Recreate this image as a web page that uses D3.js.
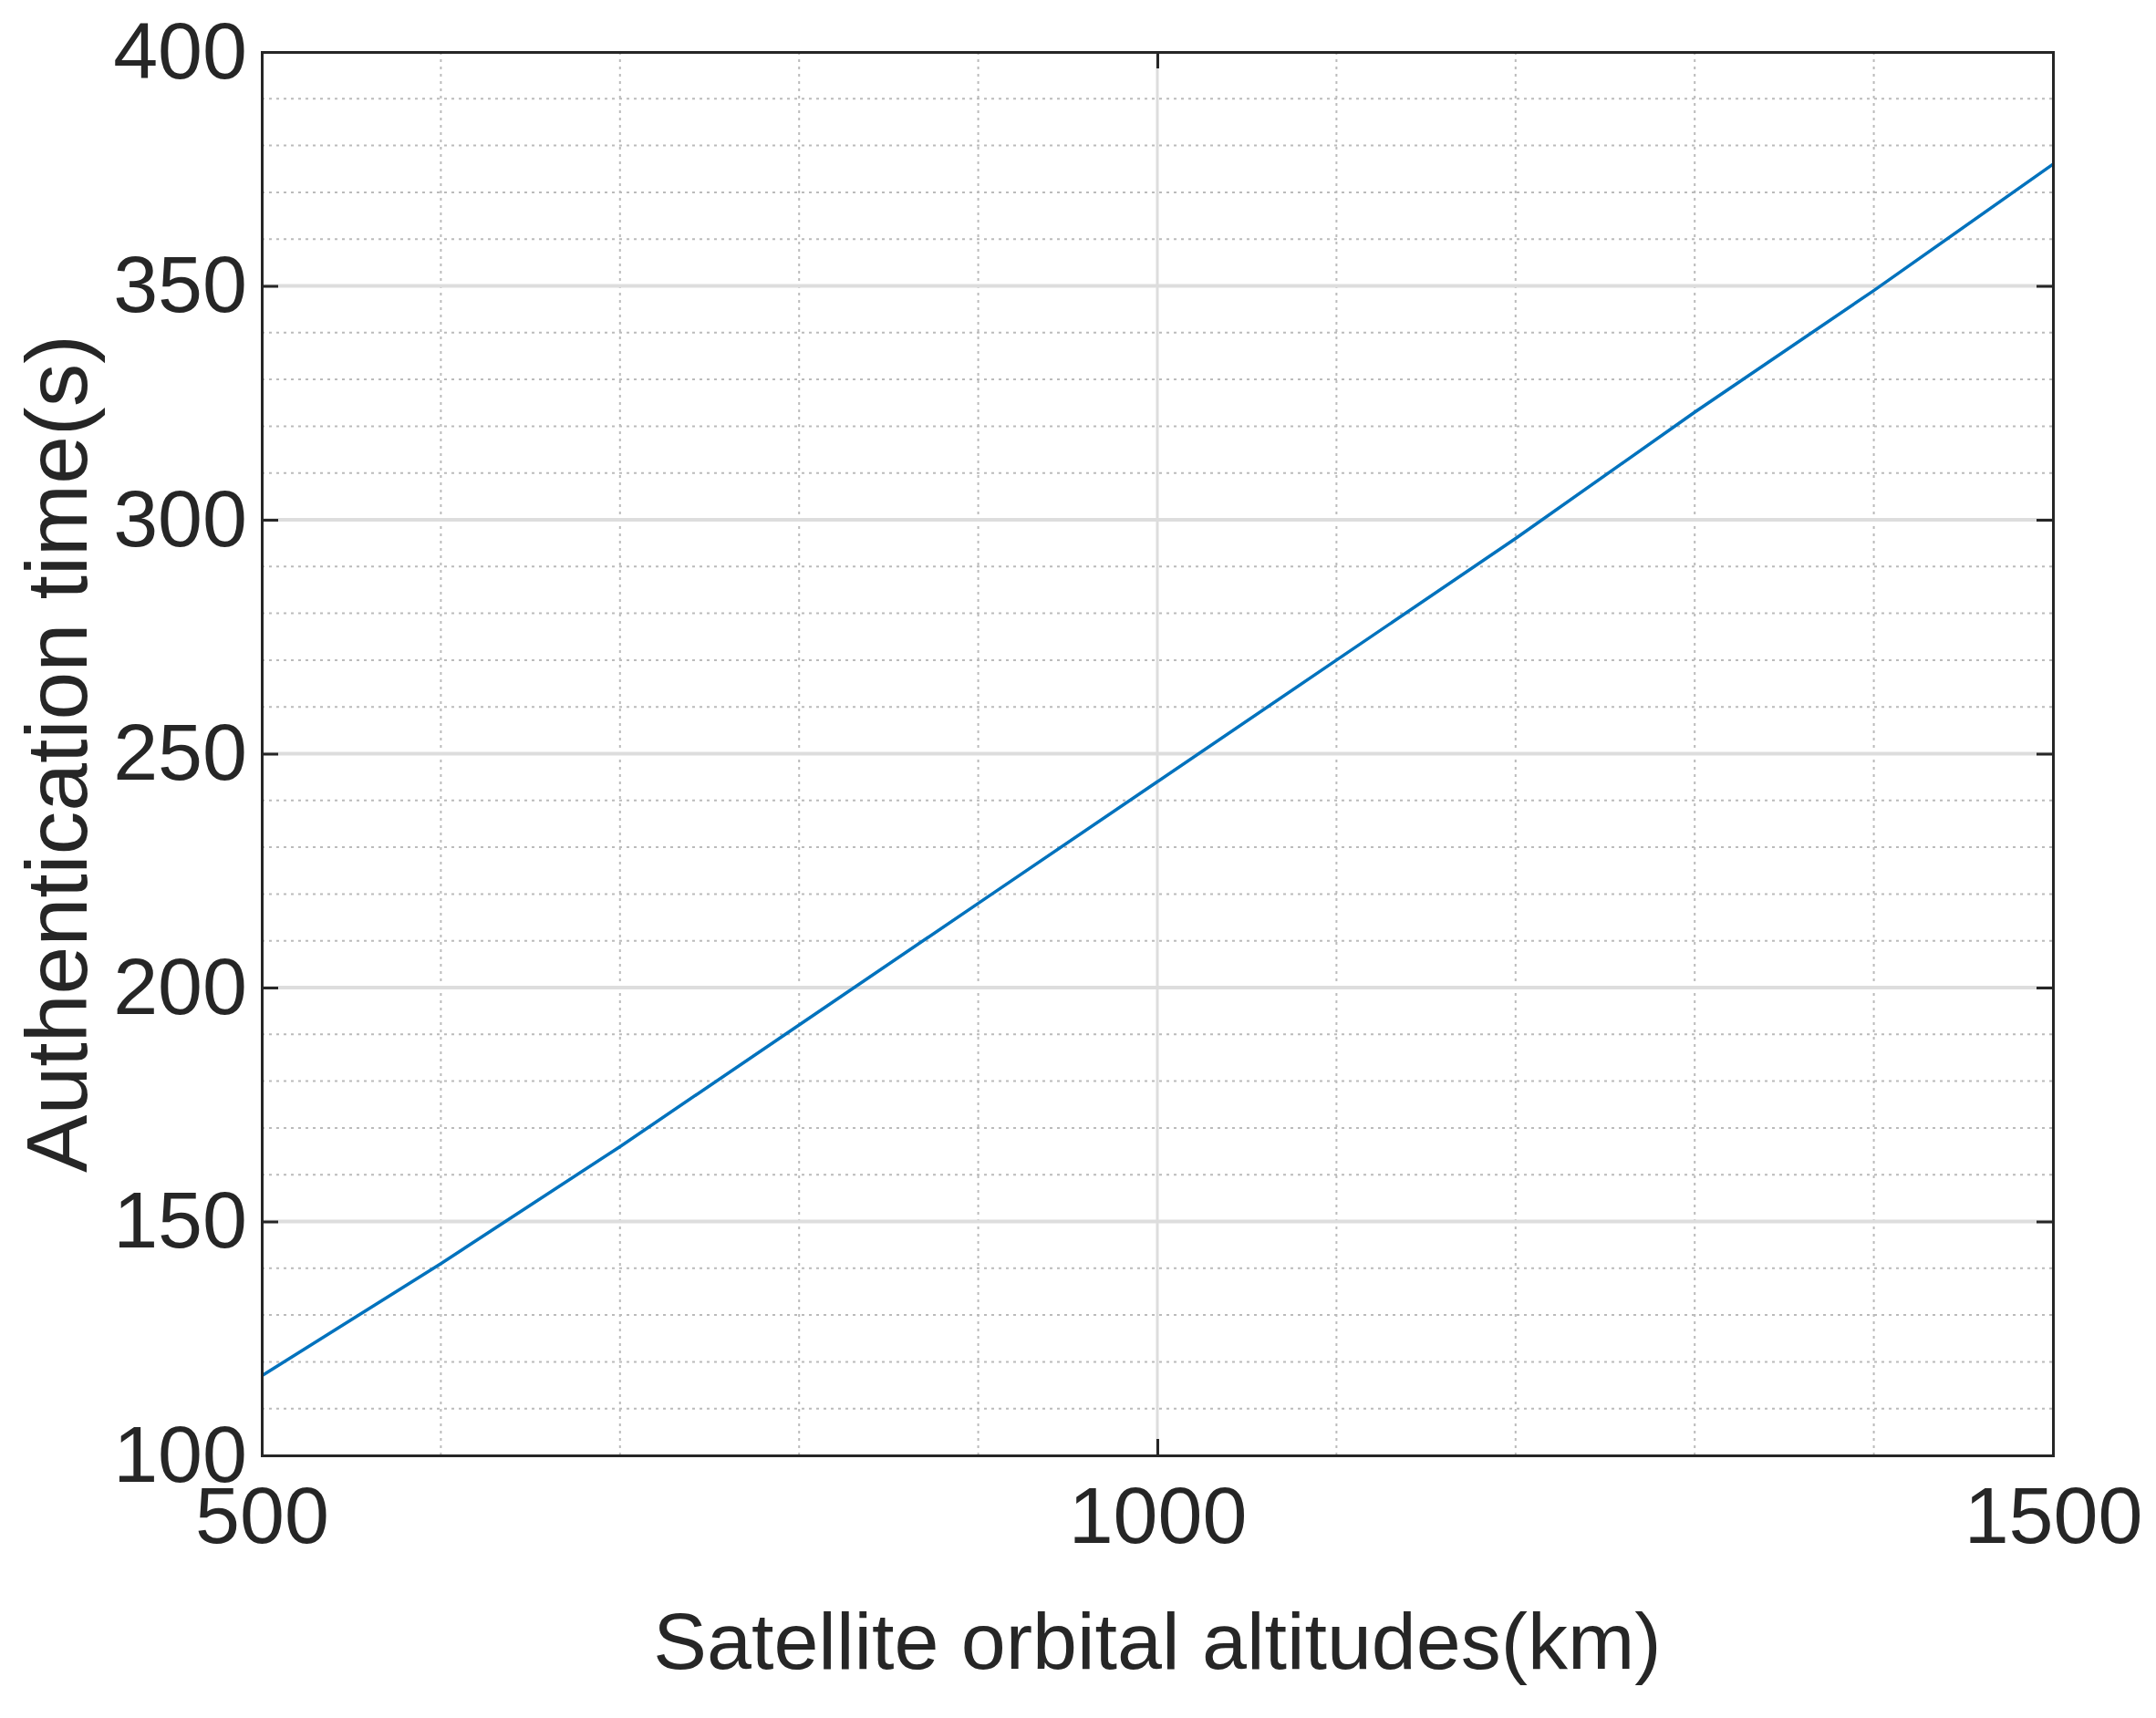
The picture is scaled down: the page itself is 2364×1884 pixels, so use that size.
<!DOCTYPE html>
<html><head><meta charset="utf-8">
<script src="https://cdn.jsdelivr.net/npm/d3@7"></script>
<style>body{margin:0;background:#fff}</style></head>
<body><svg id="c" width="2364" height="1884"></svg>
<script>
const altitudes=[500,600,700,800,900,1000,1100,1200,1300,1400,1500];
const authTime=[117,141,166,192,218,244,270,296,323,349,376];
const xTicks=[500,1000,1500];
const yTicks=[100,150,200,250,300,350,400];
const W=2364,H=1884,L=287,R=2251,T=57,B=1596;
const svg=d3.select("#c");
const x=d3.scaleLinear().domain([500,1500]).range([L,R]);
const y=d3.scaleLinear().domain([100,400]).range([B,T]);
const g=svg.append("g");
d3.range(600,1500,100).filter(v=>v!==1000).forEach(v=>g.append("line").attr("x1",x(v)).attr("x2",x(v)).attr("y1",T).attr("y2",B).attr("stroke","#bbb").attr("stroke-width",2).attr("stroke-dasharray","3,5"));
d3.range(110,400,10).filter(v=>v%50!==0).forEach(v=>g.append("line").attr("y1",y(v)).attr("y2",y(v)).attr("x1",L).attr("x2",R).attr("stroke","#bbb").attr("stroke-width",2).attr("stroke-dasharray","3,5"));
[1000].forEach(v=>g.append("line").attr("x1",x(v)).attr("x2",x(v)).attr("y1",T).attr("y2",B).attr("stroke","#ddd").attr("stroke-width",3));
[150,200,250,300,350].forEach(v=>g.append("line").attr("y1",y(v)).attr("y2",y(v)).attr("x1",L).attr("x2",R).attr("stroke","#ddd").attr("stroke-width",4));
g.append("path").datum(altitudes.map((a,i)=>[a,authTime[i]])).attr("d",d3.line().x(d=>x(d[0])).y(d=>y(d[1]))).attr("fill","none").attr("stroke","#0072BD").attr("stroke-width",3.5);
const fmt=d3.format("d");
const ax=d3.axisBottom(x).tickValues(xTicks).tickSize(-18).tickPadding(34).tickFormat(fmt);
const ay=d3.axisLeft(y).tickValues(yTicks).tickSize(-18).tickPadding(16).tickFormat(fmt);
const gx=svg.append("g").attr("transform",`translate(0,${B})`).call(ax);
const gy=svg.append("g").attr("transform",`translate(${L},0)`).call(ay);
svg.append("g").attr("transform",`translate(0,${T})`).call(d3.axisTop(x).tickValues(xTicks).tickSize(-18).tickFormat(""));
svg.append("g").attr("transform",`translate(${R},0)`).call(d3.axisRight(y).tickValues(yTicks).tickSize(-18).tickFormat(""));
svg.selectAll(".domain,.tick line").attr("stroke","#262626").attr("stroke-width",3);
svg.selectAll(".tick text").attr("font-family","Liberation Sans, Arial").attr("font-size",88).attr("fill","#262626");
gx.selectAll("text").attr("dy","0.71em");
svg.append("text").attr("x",(L+R)/2).attr("y",1830).attr("text-anchor","middle").attr("font-family","Liberation Sans, Arial").attr("font-size",88).attr("fill","#262626").text("Satellite orbital altitudes(km)");
svg.append("text").attr("transform",`translate(95,${(T+B)/2}) rotate(-90)`).attr("text-anchor","middle").attr("font-family","Liberation Sans, Arial").attr("font-size",95).attr("fill","#262626").text("Authentication time(s)");
</script></body></html>
